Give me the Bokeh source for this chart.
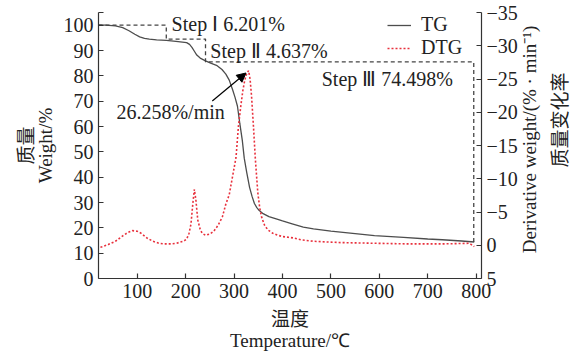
from math import pi
from bokeh.plotting import figure
from bokeh.layouts import row
from bokeh.models import (Range1d, LinearAxis, FixedTicker, Label, Arrow,
                          NormalHead, Legend, LegendItem)
from bokeh.embed import file_html
from bokeh.resources import INLINE

# ---------------- data ----------------
temperature_tg = [20, 35, 55, 70, 83, 95, 105, 115, 125, 140, 160, 180, 202, 208, 213,
                  218, 223, 230, 241, 253, 265, 275, 283, 290, 297, 302, 307, 312, 317, 321,
                  326, 332, 337, 342, 347, 352, 360, 372, 387, 400, 420, 443, 464, 500, 550,
                  590, 650, 700, 730, 770, 796]
weight_tg = [100.1, 100.0, 99.7, 99.0, 97.8, 96.4, 95.4, 94.8, 94.5, 94.2, 94.0, 93.6, 93.1, 92.4, 91.2,
             89.7, 88.2, 87.0, 85.9, 84.9, 84.0, 82.5, 80.7, 78.3, 74.5, 71.5, 68.0, 61.0, 54.5, 47.5,
             42.0, 36.0, 32.5, 29.6, 28.0, 26.8, 25.6, 24.4, 23.5, 22.7, 21.6, 20.3, 19.6, 18.7, 17.7,
             16.9, 16.2, 15.6, 15.3, 14.8, 14.4]

temperature_dtg = [24, 29, 40, 55, 70, 80, 90, 100, 108, 120, 132, 145, 155, 170, 181, 195, 202,
                   207, 211, 215, 218, 221, 225, 230, 234, 241, 250, 258, 267, 276, 283, 290, 297,
                   304, 309, 314, 318, 322, 326, 330, 333, 336, 340, 344, 349, 353, 357, 363, 370,
                   380, 390, 401, 412, 422, 440, 464, 490, 520, 555, 590, 625, 660, 695, 730, 760,
                   786, 792, 796]
rate_dtg = [0.3, 0.2, -0.1, -0.6, -1.4, -1.9, -2.2, -2.1, -1.8, -1.1, -0.6, -0.3, -0.2, -0.2, -0.3, -0.6, -0.9,
            -1.8, -3.2, -6.4, -8.4, -6.9, -3.8, -2.4, -1.8, -1.5, -1.7, -2.1, -3.0, -4.3, -6.2, -7.6, -10.4,
            -13.2, -17.9, -21.0, -23.2, -24.8, -25.8, -26.26, -25.0, -22.5, -17.9, -12.9, -7.9, -5.6, -4.2, -3.0, -2.3,
            -1.8, -1.5, -1.3, -1.2, -1.1, -0.8, -0.6, -0.5, -0.4, -0.35, -0.3, -0.25, -0.2, -0.2, -0.2, -0.25,
            -0.3, 0.0, 0.2]

x_ticks = [100, 200, 300, 400, 500, 600, 700, 800]
left_ticks = [0, 10, 20, 30, 40, 50, 60, 70, 80, 90, 100]
right_ticks = [-35, -30, -25, -20, -15, -10, -5, 0, 5]

# step boxes (temperature, weight) and their labels
step_x = [20, 160, 160, 241, 241, 795, 795]
step_y = [100, 100, 94.5, 94.5, 85.5, 85.5, 14.4]
step_labels = ["Step Ⅰ 6.201%", "Step Ⅱ 4.637%", "Step Ⅲ 74.498%"]
step_label_x = [171, 251, 481]
step_label_y = [100.3, 90.0, 78.6]

peak_label = "26.258%/min"
peak_label_x, peak_label_y = 57, 65.6
arrow_start = (255, -21.7)
arrow_end = (324.6, -25.9)

right_titles = ["Derivative weight/(% · min⁻¹)", "质量变化率"]

SERIF = "Liberation Serif"
CJK = "Noto Sans CJK SC"
FS = "20px"
AXC = "#333333"
TXT = "#222222"

MAIN_W = 520
SIDE_W = 575 - MAIN_W

# ---------------- main figure ----------------
p = figure(width=MAIN_W, height=354, output_backend="svg", toolbar_location=None,
           x_range=Range1d(20, 811), y_range=Range1d(0, 105),
           min_border_left=98, min_border_right=36, min_border_top=12, min_border_bottom=76)
p.extra_y_ranges = {"dtg": Range1d(start=5, end=-35)}
p.grid.visible = False
p.outline_line_color = None


def style_axis(ax):
    ax.axis_line_color = AXC
    ax.axis_line_width = 1.2
    ax.major_tick_line_color = AXC
    ax.major_tick_line_width = 1.2
    ax.major_tick_in = 5
    ax.major_tick_out = 0
    ax.minor_tick_line_color = None
    ax.major_label_text_font = SERIF
    ax.major_label_text_font_size = FS
    ax.major_label_text_color = TXT
    ax.major_label_standoff = 5
    ax.axis_label_text_font = SERIF
    ax.axis_label_text_font_size = "19px"
    ax.axis_label_text_font_style = "normal"
    ax.axis_label_text_color = TXT


def title_axis(label, standoff, font, **kw):
    ax = LinearAxis(**kw)
    ax.ticker = FixedTicker(ticks=[])
    ax.axis_line_color = None
    ax.major_tick_line_color = None
    ax.minor_tick_line_color = None
    ax.major_tick_in = 0
    ax.major_tick_out = 0
    ax.major_label_standoff = 0
    ax.axis_label = label
    ax.axis_label_standoff = standoff
    ax.axis_label_text_font = font
    ax.axis_label_text_font_size = "19px"
    ax.axis_label_text_font_style = "normal"
    ax.axis_label_text_color = TXT
    return ax


xa = p.xaxis[0]
style_axis(xa)
xa.ticker = FixedTicker(ticks=x_ticks)
xa.axis_label = "温度"
xa.axis_label_text_font = CJK
xa.axis_label_standoff = 3

ya = p.yaxis[0]
style_axis(ya)
ya.ticker = FixedTicker(ticks=left_ticks + [105])
ya.major_label_overrides = {105: ""}
ya.axis_label = "Weight/%"
ya.axis_label_standoff = 5

ry = LinearAxis(y_range_name="dtg")
style_axis(ry)
ry.ticker = FixedTicker(ticks=right_ticks)
ry.major_label_overrides = {t: (("−" + str(-t)) if t < 0 else str(t)) for t in right_ticks}
p.add_layout(ry, "right")

p.add_layout(title_axis("质量", -6, CJK), "left")
p.add_layout(title_axis("Temperature/℃", -4, SERIF), "below")

# ---------------- curves ----------------
tg = p.line(temperature_tg, weight_tg, line_color="#4d4d4d", line_width=1.3)
dtg = p.line(temperature_dtg, rate_dtg, y_range_name="dtg", line_color="#e8313d",
             line_width=1.6, line_dash="2 2")

p.line(step_x, step_y, line_color="#444444", line_width=1.3, line_dash="4 3")

for t, xx, yy in zip(step_labels, step_label_x, step_label_y):
    p.add_layout(Label(x=xx, y=yy, text=t, text_font=SERIF, text_font_size=FS,
                       text_baseline="middle", text_align="left", text_color=TXT))

p.add_layout(Label(x=peak_label_x, y=peak_label_y, text=peak_label, text_font=SERIF,
                   text_font_size=FS, text_baseline="middle", text_color=TXT))
p.add_layout(Arrow(x_start=arrow_start[0], y_start=arrow_start[1], x_end=arrow_end[0], y_end=arrow_end[1],
                   y_range_name="dtg", line_color="black", line_width=1.2,
                   end=NormalHead(size=9, fill_color="black", line_color="black")))

legend = Legend(items=[LegendItem(label="TG", renderers=[tg]),
                       LegendItem(label="DTG", renderers=[dtg])],
                location=(289, 219), label_text_font=SERIF, label_text_font_size=FS,
                label_text_color=TXT, label_height=20, glyph_height=20, glyph_width=24,
                label_standoff=10, spacing=0, padding=0, margin=0,
                background_fill_alpha=0, border_line_color=None)
p.add_layout(legend)

# ---------------- right-hand title strip (texts read bottom-to-top) ----------------
# a pixel-mapped strip: x in px from the strip's left edge, y in px from its bottom
side = figure(width=SIDE_W, height=354, output_backend="svg", toolbar_location=None,
              x_range=Range1d(0, SIDE_W), y_range=Range1d(0, 354),
              min_border=0, min_border_left=0, min_border_right=0,
              min_border_top=0, min_border_bottom=0)
side.axis.visible = False
side.grid.visible = False
side.outline_line_color = None
side.add_layout(Label(x=9, y=185, text=right_titles[0], angle=pi / 2, text_align="center",
                      text_baseline="middle", text_font=SERIF, text_font_size="19px", text_color=TXT))
side.add_layout(Label(x=37.5, y=211, text=right_titles[1], angle=pi / 2, text_align="center",
                      text_baseline="middle", text_font=CJK, text_font_size="19px", text_color=TXT))

layout = row(p, side, spacing=0)
open("out.html", "w").write(file_html(layout, INLINE))
